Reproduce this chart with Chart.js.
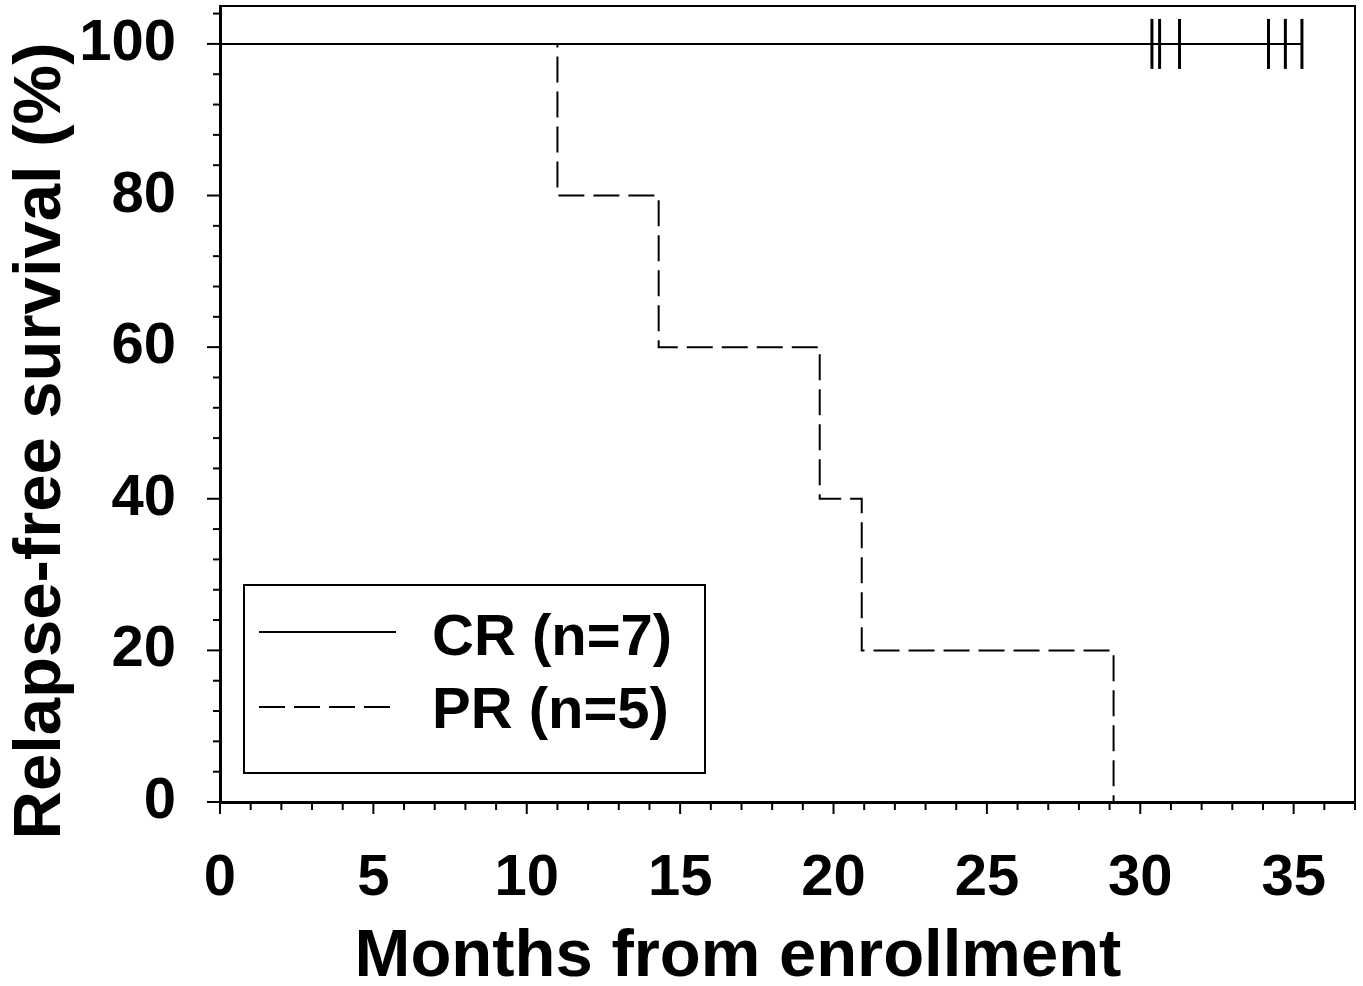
<!DOCTYPE html>
<html>
<head>
<meta charset="utf-8">
<title>Relapse-free survival</title>
<script src="https://cdn.jsdelivr.net/npm/chart.js@4/dist/chart.umd.min.js"></script>
<style>
  html, body { margin: 0; padding: 0; background: #fff; }
  #wrap { width: 1363px; height: 986px; position: relative; }
</style>
</head>
<body>
<div id="wrap"><canvas id="kmChart"></canvas></div>
<script>
// data
const crMonths = [0, 35.27];
const crSurvival = [100, 100];
const crCensorMonths = [30.38, 30.63, 31.28, 34.18, 34.73, 35.27];
const prMonths = [0, 11.0, 14.3, 19.55, 20.92, 29.13];
const prSurvival = [100, 80, 60, 40, 20, 0];
const seriesLabels = ["CR (n=7)", "PR (n=5)"];
const xTicks = [0, 5, 10, 15, 20, 25, 30, 35];
const yTicks = [0, 20, 40, 60, 80, 100];
const xTitle = "Months from enrollment";
const yTitle = "Relapse-free survival (%)";

const FONT = '"Liberation Sans", Arial, Helvetica, sans-serif';
const PR_DASH = [26, 9];

const toPts = (xs, ys) => xs.map((v, i) => ({ x: v, y: ys[i] }));

// axes frame, minor/major ticks, titles and the boxed legend
const decorations = {
  id: "decorations",
  afterDatasetsDraw(chart) {
    const { ctx, chartArea: a, scales: { x, y } } = chart;
    ctx.save();
    ctx.strokeStyle = "#000";
    ctx.fillStyle = "#000";

    // thin top / right border
    ctx.lineWidth = 2;
    ctx.beginPath();
    ctx.moveTo(a.left, a.top);
    ctx.lineTo(a.right, a.top);
    ctx.lineTo(a.right, a.bottom);
    ctx.stroke();

    // x ticks, one per month, longer every 5
    ctx.lineWidth = 2;
    for (let m = 0; m <= x.max; m++) {
      const px = x.getPixelForValue(m);
      const len = m % 5 === 0 ? 12 : 8;
      ctx.beginPath();
      ctx.moveTo(px, a.bottom);
      ctx.lineTo(px, a.bottom + len);
      ctx.stroke();
    }
    // y ticks every 4, longer every 20
    for (let v = 0; v <= y.max; v += 4) {
      const py = y.getPixelForValue(v);
      const len = v % 20 === 0 ? 13 : 7;
      ctx.beginPath();
      ctx.moveTo(a.left - len, py);
      ctx.lineTo(a.left, py);
      ctx.stroke();
    }

    // axis titles
    ctx.font = "bold 67px " + FONT;
    ctx.textAlign = "center";
    ctx.textBaseline = "alphabetic";
    ctx.fillText(xTitle, 738, 976);
    ctx.save();
    ctx.translate(60, 441);
    ctx.rotate(-Math.PI / 2);
    ctx.fillText(yTitle, 0, 0);
    ctx.restore();

    // legend box
    const bx = a.left + 24, by = a.bottom - 217, bw = 461, bh = 188;
    ctx.lineWidth = 2;
    ctx.strokeRect(bx, by, bw, bh);
    const rows = [
      { y: by + 47, dash: [], text: seriesLabels[0], base: by + 70 },
      { y: by + 122, dash: PR_DASH, text: seriesLabels[1], base: by + 143 },
    ];
    ctx.font = "bold 58px " + FONT;
    ctx.textAlign = "left";
    rows.forEach((r) => {
      ctx.save();
      ctx.lineWidth = 2;
      ctx.setLineDash(r.dash);
      ctx.beginPath();
      ctx.moveTo(bx + 15, r.y);
      ctx.lineTo(bx + 152, r.y);
      ctx.stroke();
      ctx.restore();
      ctx.fillText(r.text, bx + 188, r.base);
    });
    ctx.restore();
  },
};

const chart = new Chart(document.getElementById("kmChart"), {
  type: "line",
  data: {
    datasets: [
      {
        label: seriesLabels[0],
        data: toPts(crMonths, crSurvival),
        borderColor: "#000",
        borderWidth: 2,
        pointRadius: 0,
      },
      {
        label: "CR censored",
        data: toPts(crCensorMonths, crCensorMonths.map(() => 100)),
        showLine: false,
        pointStyle: "line",
        pointRotation: 90,
        pointRadius: 25,
        pointBorderWidth: 3,
        pointBorderColor: "#000",
        borderColor: "#000",
      },
      {
        label: seriesLabels[1],
        data: toPts(prMonths, prSurvival),
        stepped: "before",
        borderColor: "#000",
        borderWidth: 2,
        borderDash: PR_DASH,
        pointRadius: 0,
      },
    ],
  },
  options: {
    responsive: true,
    maintainAspectRatio: false,
    animation: false,
    devicePixelRatio: 1,
    clip: false,
    layout: { autoPadding: false, padding: { top: 6, right: 8, left: 0, bottom: 0 } },
    scales: {
      x: {
        type: "linear",
        min: 0,
        max: 37,
        afterBuildTicks: (s) => { s.ticks = xTicks.map((v) => ({ value: v })); },
        afterFit: (s) => {
          s.height = 184;
          s.paddingLeft = 0;
          s.paddingRight = 0;
        },
        grid: { display: false, drawTicks: false },
        border: { display: true, color: "#000", width: 3 },
        ticks: {
          color: "#000",
          font: { family: FONT, size: 58, weight: "bold" },
          padding: 42,
          maxRotation: 0,
          autoSkip: false,
        },
      },
      y: {
        min: 0,
        max: 105,
        afterBuildTicks: (s) => { s.ticks = yTicks.map((v) => ({ value: v })); },
        afterFit: (s) => {
          s.width = 220;
          s.paddingTop = 0;
          s.paddingBottom = 0;
        },
        grid: { display: false, drawTicks: false },
        border: { display: true, color: "#000", width: 3 },
        ticks: {
          color: "#000",
          font: { family: FONT, size: 58, weight: "bold" },
          padding: 44,
          autoSkip: false,
        },
      },
    },
    plugins: {
      legend: { display: false },
      tooltip: { enabled: false },
    },
  },
  plugins: [decorations],
});
</script>
</body>
</html>
